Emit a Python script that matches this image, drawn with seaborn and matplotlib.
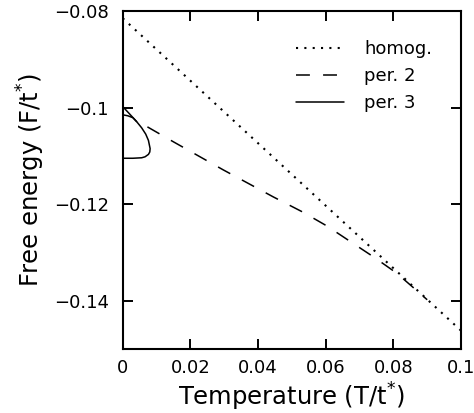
import matplotlib
matplotlib.use("Agg")
import matplotlib.pyplot as plt
import seaborn as sns

# values
homog_T = [0.0, 0.1]
homog_F = [-0.0815, -0.1462]

per2_T = [0.0073, 0.015, 0.0297, 0.0445, 0.0531, 0.0603, 0.0674, 0.0743, 0.081, 0.0874, 0.090]
per2_F = [-0.1040, -0.1071, -0.1129, -0.1185, -0.1216, -0.1245, -0.1278, -0.1310, -0.1343, -0.1382, -0.1398]

# main per. 3 branch (loops back to T=0) and the short side branch
per3_T = [0.0, 0.0020, 0.0041, 0.0056, 0.0068, 0.0076, 0.0081, 0.0080, 0.0076, 0.0066, 0.0056, 0.0030, 0.0]
per3_F = [-0.0998, -0.1013, -0.1029, -0.1042, -0.1055, -0.1068, -0.1085, -0.1092, -0.1097, -0.1102, -0.1104, -0.1105, -0.1105]
per3b_T = [0.0, 0.0015, 0.0030, 0.0041]
per3b_F = [-0.1015, -0.1017, -0.1021, -0.1029]

sns.set_style("ticks")
plt.rcParams["font.family"] = ["DejaVu Sans"]
plt.rcParams["lines.scale_dashes"] = False
plt.rcParams["xtick.direction"] = "in"
plt.rcParams["ytick.direction"] = "in"
plt.rcParams["xtick.top"] = True
plt.rcParams["ytick.right"] = True
for k in ["text.color", "axes.labelcolor", "xtick.color", "ytick.color", "axes.edgecolor"]:
    plt.rcParams[k] = "black"

fig = plt.figure(figsize=(4.74, 4.13), dpi=100)
ax = fig.add_axes([0.2589, 0.155, 0.7137, 0.8184])

sns.lineplot(x=homog_T, y=homog_F, ax=ax, color="black", lw=1.5,
             linestyle=(0, (1.5, 4.5)), label="homog.")
sns.lineplot(x=per2_T, y=per2_F, ax=ax, color="black", lw=1.1,
             linestyle=(0, (10, 9.5)), sort=False, estimator=None, label="per. 2")
sns.lineplot(x=per3_T, y=per3_F, ax=ax, color="black", lw=1.1,
             sort=False, estimator=None, label="per. 3")
sns.lineplot(x=per3b_T, y=per3b_F, ax=ax, color="black", lw=1.1,
             sort=False, estimator=None)

ax.set_xlim(0, 0.1)
ax.set_ylim(-0.15, -0.08)
ax.set_xticks([0, 0.02, 0.04, 0.06, 0.08, 0.1])
ax.set_xticklabels(["0", "0.02", "0.04", "0.06", "0.08", "0.1"])
ax.set_yticks([-0.14, -0.12, -0.1, -0.08])
ax.set_yticklabels(["\u22120.14", "\u22120.12", "\u22120.1", "\u22120.08"])
ax.tick_params(which="major", length=7, width=1.4, labelsize=13)
ax.tick_params(axis="x", pad=7)
ax.tick_params(axis="y", pad=10)
for s in ax.spines.values():
    s.set_linewidth(1.5)

ax.set_xlabel("Temperature (T/t$^{*}$)", fontsize=17.5, labelpad=3)
ax.set_ylabel("Free energy (F/t$^{*}$)", fontsize=17.5, labelpad=5)

ax.legend(loc="upper right", frameon=False, fontsize=13, handlelength=2.7,
          handletextpad=1.1, labelspacing=0.5, borderaxespad=1.2)

fig.savefig("out.png", dpi=100)
